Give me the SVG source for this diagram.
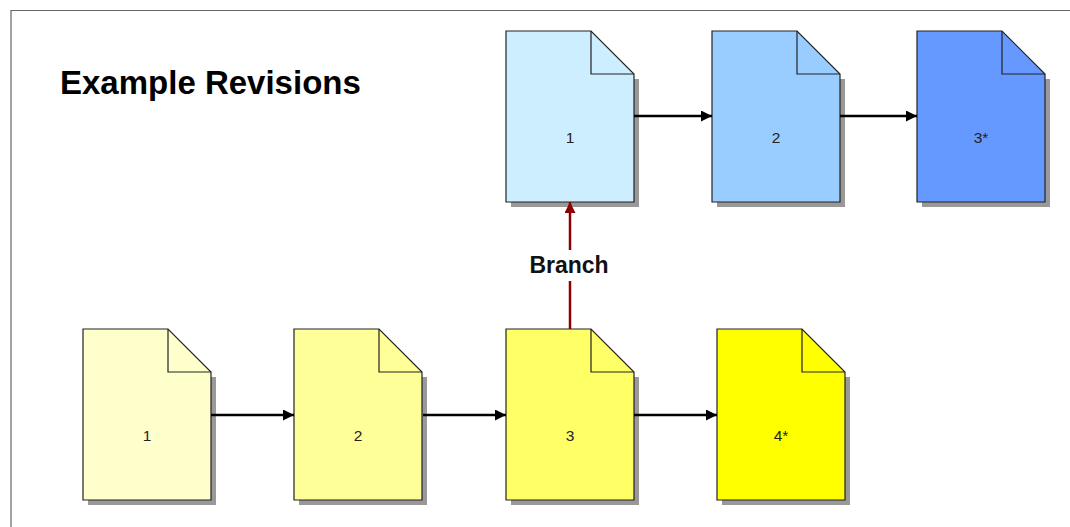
<svg xmlns="http://www.w3.org/2000/svg" width="1070" height="527" viewBox="0 0 1070 527">
<defs>
<style>
.doc{stroke:#222;stroke-width:1.2;}
.fold{fill:none;stroke:#222;stroke-width:1.2;}
.shadow{fill:#999;}
.lbl{font-family:"Liberation Sans",Arial,sans-serif;font-size:15.5px;fill:#222;text-anchor:middle;}
.conn{stroke:#000;stroke-width:2.5;fill:none;}
.branch{stroke:#8b0000;stroke-width:2.5;fill:none;}
</style>
<marker id="ah" viewBox="0 0 10 10" refX="10" refY="5" markerWidth="4.4" markerHeight="4.4" markerUnits="strokeWidth" orient="auto">
<path d="M0,0 L10,5 L0,10 z" fill="#000"/>
</marker>
<marker id="ahr" viewBox="0 0 10 10" refX="10" refY="5" markerWidth="4.4" markerHeight="4.4" markerUnits="strokeWidth" orient="auto">
<path d="M0,0 L10,5 L0,10 z" fill="#8b0000"/>
</marker>
</defs>
<rect x="0" y="0" width="1070" height="527" fill="#fff"/>
<path d="M11,527 L11,10.5 L1070,10.5" fill="none" stroke="#666" stroke-width="1.2"/>
<text x="60" y="94" font-family="Liberation Sans,Arial,sans-serif" font-size="33" font-weight="bold" fill="#000">Example Revisions</text>

<g id="b1" transform="translate(83,329)">
<rect class="shadow" x="128" y="48" width="5" height="128"/>
<rect class="shadow" x="5" y="171" width="128" height="5"/>
<path class="doc" fill="#ffffcc" d="M0,0 L85,0 L128,43 L128,171 L0,171 z"/>
<path class="fold" d="M85,0 L85,43 L128,43"/>
<text class="lbl" x="64" y="112">1</text>
</g>
<g id="b2" transform="translate(294,329)">
<rect class="shadow" x="128" y="48" width="5" height="128"/>
<rect class="shadow" x="5" y="171" width="128" height="5"/>
<path class="doc" fill="#ffff99" d="M0,0 L85,0 L128,43 L128,171 L0,171 z"/>
<path class="fold" d="M85,0 L85,43 L128,43"/>
<text class="lbl" x="64" y="112">2</text>
</g>
<g id="b3" transform="translate(506,329)">
<rect class="shadow" x="128" y="48" width="5" height="128"/>
<rect class="shadow" x="5" y="171" width="128" height="5"/>
<path class="doc" fill="#ffff66" d="M0,0 L85,0 L128,43 L128,171 L0,171 z"/>
<path class="fold" d="M85,0 L85,43 L128,43"/>
<text class="lbl" x="64" y="112">3</text>
</g>
<g id="b4" transform="translate(717,329)">
<rect class="shadow" x="128" y="48" width="5" height="128"/>
<rect class="shadow" x="5" y="171" width="128" height="5"/>
<path class="doc" fill="#ffff00" d="M0,0 L85,0 L128,43 L128,171 L0,171 z"/>
<path class="fold" d="M85,0 L85,43 L128,43"/>
<text class="lbl" x="64" y="112">4*</text>
</g>
<g id="t1" transform="translate(506,31)">
<rect class="shadow" x="128" y="48" width="5" height="128"/>
<rect class="shadow" x="5" y="171" width="128" height="5"/>
<path class="doc" fill="#cceeff" d="M0,0 L85,0 L128,43 L128,171 L0,171 z"/>
<path class="fold" d="M85,0 L85,43 L128,43"/>
<text class="lbl" x="64" y="112">1</text>
</g>
<g id="t2" transform="translate(712,31)">
<rect class="shadow" x="128" y="48" width="5" height="128"/>
<rect class="shadow" x="5" y="171" width="128" height="5"/>
<path class="doc" fill="#99ccff" d="M0,0 L85,0 L128,43 L128,171 L0,171 z"/>
<path class="fold" d="M85,0 L85,43 L128,43"/>
<text class="lbl" x="64" y="112">2</text>
</g>
<g id="t3" transform="translate(917,31)">
<rect class="shadow" x="128" y="48" width="5" height="128"/>
<rect class="shadow" x="5" y="171" width="128" height="5"/>
<path class="doc" fill="#6699ff" d="M0,0 L85,0 L128,43 L128,171 L0,171 z"/>
<path class="fold" d="M85,0 L85,43 L128,43"/>
<text class="lbl" x="64" y="112">3*</text>
</g>

<g id="connectors">
<line class="conn" x1="211" y1="415" x2="294" y2="415" marker-end="url(#ah)"/>
<line class="conn" x1="423" y1="415" x2="506" y2="415" marker-end="url(#ah)"/>
<line class="conn" x1="634" y1="415" x2="717" y2="415" marker-end="url(#ah)"/>
<line class="conn" x1="634" y1="116" x2="712" y2="116" marker-end="url(#ah)"/>
<line class="conn" x1="840" y1="116" x2="917" y2="116" marker-end="url(#ah)"/>
<line class="branch" x1="570" y1="329" x2="570" y2="281"/>
<line class="branch" x1="570" y1="250" x2="570" y2="202" marker-end="url(#ahr)"/>
<text x="569" y="273" font-family="Liberation Sans,Arial,sans-serif" font-size="23" font-weight="bold" fill="#111" text-anchor="middle">Branch</text>
</g>
</svg>
